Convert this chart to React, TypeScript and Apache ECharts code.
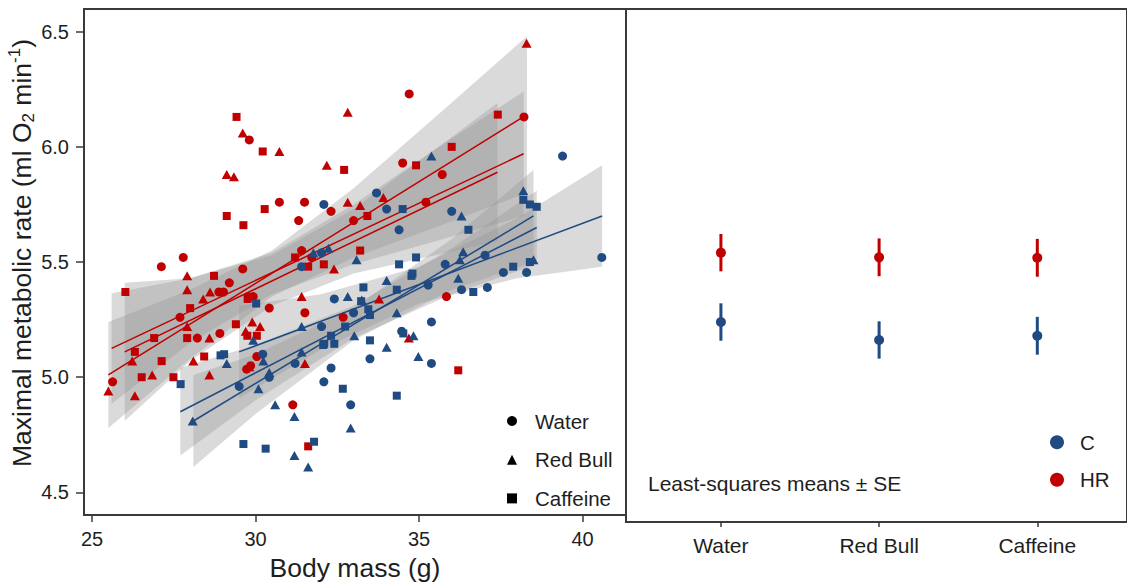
import React, { useEffect, useRef } from 'react';
import * as echarts from 'echarts';

const FONT = '"Liberation Sans", Arial, sans-serif';
const RED = '#c00000';
const BLUE = '#1f4a82';
const INK = '#1e1e1e';
const AXIS = '#3a3a3a';
const BAND = 'rgba(150,150,150,0.35)';

const treatments = ['Water', 'Red Bull', 'Caffeine'];
const groups = ['C', 'HR'];
const massTicks = [25, 30, 35, 40];
const mmrTicks = [4.5, 5.0, 5.5, 6.0, 6.5];

// [body mass (g), maximal metabolic rate]
const hrWater = [[29.81,6.03],[30.73,5.76],[31.50,5.76],[31.32,5.68],[27.12,5.48],[27.79,5.52],[29.61,5.47],[29.20,5.41],[31.41,5.55],[31.72,5.52],[28.88,5.37],[29.02,5.37],[27.69,5.26],[28.22,5.17],[28.91,5.19],[25.63,4.98],[29.78,5.35],[29.93,5.35],[30.42,5.30],[29.73,5.035],[29.85,5.05],[30.04,5.09],[31.14,4.88],[31.51,5.28],[32.31,5.72],[33.0,5.68],[34.50,5.93],[35.21,5.76],[32.68,5.26],[35.84,5.35],[35.71,5.88],[38.21,6.13],[34.70,6.23]];
const hrRedBull = [[29.61,6.06],[30.73,5.98],[29.12,5.88],[29.34,5.87],[32.18,5.92],[27.91,5.44],[27.91,5.38],[28.61,5.37],[28.40,5.34],[27.91,5.22],[28.59,5.17],[26.23,5.07],[28.10,5.07],[26.84,5.01],[28.59,5.01],[25.50,4.94],[26.31,4.92],[29.90,5.24],[30.14,5.22],[29.70,5.20],[29.81,5.045],[31.41,5.35],[31.51,5.06],[32.82,6.15],[32.82,5.76],[33.20,5.745],[33.91,5.78],[32.40,5.47],[33.78,5.34],[34.69,5.17],[38.29,6.45]];
const hrCaffeine = [[29.42,6.13],[30.22,5.98],[29.12,5.70],[29.63,5.66],[30.28,5.73],[28.73,5.44],[26.02,5.37],[31.61,5.48],[31.21,5.52],[32.09,5.49],[28.0,5.30],[27.91,5.17],[26.90,5.17],[26.31,5.11],[27.13,5.07],[28.43,5.09],[26.52,5.00],[27.49,5.00],[29.40,5.23],[29.75,5.18],[30.04,5.18],[29.76,5.34],[31.61,4.70],[32.71,5.90],[33.42,5.70],[34.91,5.92],[33.20,5.55],[36.0,6.00],[37.41,6.14],[36.2,5.03]];
const cWater = [[32.09,5.75],[31.41,5.48],[32.02,5.54],[29.50,4.96],[30.22,5.10],[30.42,5.00],[31.21,5.06],[32.09,4.98],[32.02,5.22],[32.41,5.34],[33.0,5.28],[35.28,5.40],[35.38,5.24],[34.47,5.20],[32.31,5.04],[33.50,5.08],[35.38,5.06],[32.91,4.88],[36.30,5.38],[37.09,5.39],[33.70,5.80],[34.01,5.73],[34.39,5.64],[39.39,5.96],[36.0,5.72],[40.59,5.52],[37.02,5.53],[35.80,5.49],[37.58,5.455],[38.29,5.455]];
const cRedBull = [[31.77,5.54],[28.08,4.81],[29.12,5.06],[29.93,5.16],[30.09,4.95],[30.42,5.02],[30.24,5.07],[30.60,4.88],[31.19,4.66],[31.61,4.61],[31.19,4.83],[31.41,5.22],[31.41,5.11],[32.82,5.35],[33.25,5.335],[34.01,5.42],[34.32,5.28],[33.02,5.18],[34.83,5.18],[34.01,5.13],[34.98,5.09],[32.91,4.78],[36.20,5.43],[35.38,5.96],[32.23,5.56],[33.09,5.51],[36.30,5.70],[38.19,5.81],[36.35,5.545],[36.25,5.51],[38.50,5.51]];
const cCaffeine = [[27.71,4.97],[28.93,5.095],[29.04,5.10],[30.02,5.32],[29.63,4.71],[30.31,4.69],[31.79,4.72],[32.07,5.14],[33.30,5.39],[34.77,5.44],[34.32,5.38],[33.23,5.33],[33.45,5.295],[33.50,5.27],[34.52,5.19],[32.74,5.22],[32.31,5.18],[33.50,5.16],[32.10,5.145],[32.41,5.145],[32.67,4.95],[34.32,4.92],[36.66,5.37],[34.50,5.73],[34.39,5.49],[34.91,5.52],[34.80,5.45],[36.51,5.64],[38.19,5.77],[38.39,5.75],[38.60,5.74],[37.88,5.48],[38.39,5.50]];

// fitted regression lines: [start], [end]
const hrWaterFit = [[25.6,5.125],[38.2,5.97]];
const hrRedBullFit = [[25.5,5.01],[38.3,6.14]];
const hrCaffeineFit = [[26.0,5.11],[37.4,5.89]];
const cWaterFit = [[29.5,5.11],[40.6,5.70]];
const cRedBullFit = [[28.1,4.81],[38.5,5.70]];
const cCaffeineFit = [[27.7,4.85],[38.6,5.65]];

// confidence bands: [mass, lower, upper]
const hrRedBullBand = [[25.5,4.78,5.24],[28,5.08,5.38],[30.5,5.35,5.55],[33,5.52,5.82],[35.5,5.65,6.13],[38.3,5.80,6.48]];
const hrWaterBand = [[25.6,4.885,5.365],[28,5.15,5.43],[30.5,5.36,5.54],[33,5.49,5.75],[35.5,5.59,5.99],[38.2,5.70,6.24]];
const hrCaffeineBand = [[26.0,4.81,5.41],[28,5.07,5.43],[30.5,5.31,5.53],[33,5.45,5.73],[35.5,5.53,5.99],[37.4,5.59,6.19]];
const cWaterBand = [[29.5,4.91,5.31],[32,5.12,5.36],[35,5.32,5.48],[38,5.43,5.69],[40.6,5.48,5.92]];
const cRedBullBand = [[28.1,4.61,5.01],[30,4.84,5.10],[33,5.16,5.30],[36,5.38,5.60],[38.5,5.50,5.90]];
const cCaffeineBand = [[27.7,4.66,5.04],[30,4.90,5.14],[33,5.17,5.31],[36,5.36,5.56],[38.6,5.49,5.81]];

// least-squares means and SE per treatment
const lsmC = [5.258, 5.181, 5.199];
const seC = [0.080, 0.080, 0.081];
const lsmHR = [5.555, 5.535, 5.533];
const seHR = [0.080, 0.081, 0.081];

export default function App() {
  const ref = useRef<HTMLDivElement>(null);

  useEffect(() => {
    const chart = echarts.init(ref.current as HTMLDivElement, undefined, { renderer: 'svg' });

    const bandSeries = (band: number[][]) => ({
      type: 'custom',
      xAxisIndex: 0,
      yAxisIndex: 0,
      silent: true,
      z: 1,
      data: band,
      encode: { x: 0, y: [1, 2] },
      renderItem: (params: any, api: any) => {
        if (params.dataIndex !== 0) return { type: 'group', children: [] };
        const lower = band.map((d) => api.coord([d[0], d[1]]));
        const upper = band.slice().reverse().map((d) => api.coord([d[0], d[2]]));
        return {
          type: 'polygon',
          shape: { points: lower.concat(upper) },
          style: { fill: BAND, stroke: 'none' },
        };
      },
    });

    const fitSeries = (d: number[][], color: string) => ({
      type: 'line',
      xAxisIndex: 0,
      yAxisIndex: 0,
      data: d,
      symbol: 'none',
      silent: true,
      z: 2,
      lineStyle: { color, width: 1.5 },
    });

    const pointSeries = (name: string, d: number[][], symbol: string, size: any, color: string) => ({
      type: 'scatter',
      name,
      xAxisIndex: 0,
      yAxisIndex: 0,
      data: d,
      symbol,
      symbolSize: size,
      itemStyle: { color, opacity: 1 },
      z: 3,
    });

    const errSeries = (means: number[], se: number[], color: string) => ({
      type: 'custom',
      xAxisIndex: 1,
      yAxisIndex: 1,
      silent: true,
      z: 3,
      data: means.map((m, i) => [i + 1, m - se[i], m + se[i]]),
      encode: { x: 0, y: [1, 2] },
      renderItem: (params: any, api: any) => {
        const a = api.coord([api.value(0), api.value(1)]);
        const b = api.coord([api.value(0), api.value(2)]);
        return {
          type: 'line',
          shape: { x1: a[0], y1: a[1], x2: b[0], y2: b[1] },
          style: { stroke: color, lineWidth: 3 },
        };
      },
    });

    const meanSeries = (name: string, means: number[], color: string) => ({
      type: 'scatter',
      name,
      xAxisIndex: 1,
      yAxisIndex: 1,
      data: means.map((m, i) => [i + 1, m]),
      symbol: 'circle',
      symbolSize: 10,
      itemStyle: { color, opacity: 1 },
      z: 4,
    });

    const tickLabel = { fontSize: 20, color: INK, fontFamily: FONT };

    chart.setOption({
      animation: false,
      backgroundColor: '#ffffff',
      textStyle: { fontFamily: FONT },
      grid: [
        { left: 84, top: 9, width: 542, height: 513, show: true, borderColor: AXIS, borderWidth: 2, backgroundColor: 'transparent' },
        { left: 626, top: 9, width: 502, height: 513, show: true, borderColor: AXIS, borderWidth: 2, backgroundColor: 'transparent' },
      ],
      xAxis: [
        {
          gridIndex: 0,
          type: 'value',
          min: 24.755,
          max: 41.33,
          axisLine: { show: true, lineStyle: { color: AXIS, width: 2 } },
          splitLine: { show: false },
          axisTick: { show: true, length: 7, customValues: massTicks, lineStyle: { color: AXIS, width: 1.5 } },
          axisLabel: { ...tickLabel, margin: 14, customValues: massTicks },
          name: 'Body mass (g)',
          nameLocation: 'middle',
          nameGap: 35,
          nameTextStyle: { fontSize: 26.5, color: INK, fontFamily: FONT },
        },
        {
          gridIndex: 1,
          type: 'value',
          min: 0.4,
          max: 3.567,
          axisLine: { show: true, lineStyle: { color: AXIS, width: 2 } },
          splitLine: { show: false },
          axisTick: { show: true, length: 5, customValues: [1, 2, 3], lineStyle: { color: AXIS, width: 1.5 } },
          axisLabel: {
            ...tickLabel,
            fontSize: 21,
            margin: 13,
            customValues: [1, 2, 3],
            formatter: (v: number) => treatments[Math.round(v) - 1] || '',
          },
        },
      ],
      yAxis: [
        {
          gridIndex: 0,
          type: 'value',
          min: 4.4015,
          max: 6.5985,
          axisLine: { show: true, lineStyle: { color: AXIS, width: 2 } },
          splitLine: { show: false },
          axisTick: { show: true, length: 8, customValues: mmrTicks, lineStyle: { color: AXIS, width: 1.5 } },
          axisLabel: { ...tickLabel, margin: 15, customValues: mmrTicks, formatter: (v: number) => v.toFixed(1) },
          name: '{a|Maximal metabolic rate (ml O}{b|2}{a| min}{c|-1}{a|)}',
          nameLocation: 'middle',
          nameGap: 44,
          nameTextStyle: {
            color: INK,
            fontFamily: FONT,
            padding: [0, 0, 0, 18],
            rich: {
              a: { fontSize: 26.5, lineHeight: 31, color: INK, fontFamily: FONT },
              b: { fontSize: 17, lineHeight: 17, verticalAlign: 'bottom', color: INK, fontFamily: FONT },
              c: { fontSize: 17, lineHeight: 17, verticalAlign: 'top', color: INK, fontFamily: FONT },
            },
          },
        },
        {
          gridIndex: 1,
          type: 'value',
          min: 4.4015,
          max: 6.5985,
          show: false,
          splitLine: { show: false },
        },
      ],
      legend: [
        {
          orient: 'vertical',
          left: 502,
          top: 405.5,
          itemWidth: 10,
          itemHeight: 10,
          itemGap: 17.7,
          selectedMode: false,
          textStyle: { fontSize: 20.5, lineHeight: 20, color: INK, fontFamily: FONT, padding: [0, 0, 0, 13] },
          data: [
            { name: treatments[0], icon: 'circle', itemStyle: { color: '#000' } },
            { name: treatments[1], icon: 'triangle', itemStyle: { color: '#000' } },
            { name: treatments[2], icon: 'rect', itemStyle: { color: '#000' } },
          ],
        },
        {
          orient: 'vertical',
          left: 1045,
          top: 426.7,
          itemWidth: 14,
          itemHeight: 14,
          itemGap: 16.6,
          selectedMode: false,
          textStyle: { fontSize: 20.5, lineHeight: 20, color: INK, fontFamily: FONT, padding: [0, 0, 0, 11] },
          data: [
            { name: groups[0], icon: 'circle' },
            { name: groups[1], icon: 'circle' },
          ],
        },
      ],
      graphic: [
        {
          type: 'text',
          left: 648,
          top: 473,
          style: { text: 'Least-squares means \u00b1 SE', fontSize: 21, fill: INK, fontFamily: FONT },
        },
      ],
      series: [
        bandSeries(hrRedBullBand),
        bandSeries(hrWaterBand),
        bandSeries(hrCaffeineBand),
        bandSeries(cWaterBand),
        bandSeries(cRedBullBand),
        bandSeries(cCaffeineBand),
        fitSeries(hrRedBullFit, RED),
        fitSeries(hrWaterFit, RED),
        fitSeries(hrCaffeineFit, RED),
        fitSeries(cWaterFit, BLUE),
        fitSeries(cRedBullFit, BLUE),
        fitSeries(cCaffeineFit, BLUE),
        pointSeries(treatments[0], hrWater, 'circle', 9, RED),
        pointSeries(treatments[1], hrRedBull, 'triangle', [10, 9], RED),
        pointSeries(treatments[2], hrCaffeine, 'rect', 8, RED),
        pointSeries(treatments[0], cWater, 'circle', 9, BLUE),
        pointSeries(treatments[1], cRedBull, 'triangle', [10, 9], BLUE),
        pointSeries(treatments[2], cCaffeine, 'rect', 8, BLUE),
        errSeries(lsmC, seC, BLUE),
        errSeries(lsmHR, seHR, RED),
        meanSeries(groups[0], lsmC, BLUE),
        meanSeries(groups[1], lsmHR, RED),
      ],
    });

    return () => {
      chart.dispose();
    };
  }, []);

  return (
    <div
      ref={ref}
      style={{ position: 'absolute', left: 0, top: 0, width: 1127, height: 586, background: '#fff' }}
    />
  );
}
